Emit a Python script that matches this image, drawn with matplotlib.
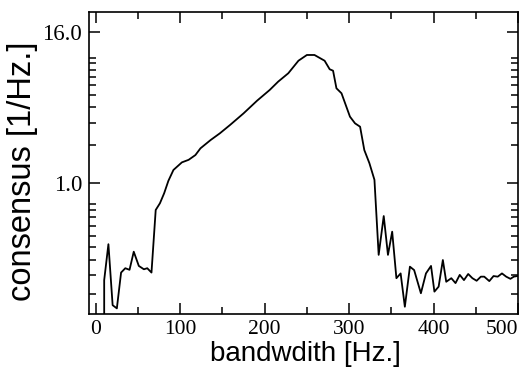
import matplotlib
matplotlib.use("Agg")
import matplotlib.pyplot as plt
import numpy as np

# bandwidth [Hz] and consensus [1/Hz]
bandwidth = [0, 5, 10, 15, 20, 25, 30, 35, 40, 45, 51, 57, 61, 66, 71, 76, 81, 86,
             92, 102, 110, 118, 124, 136, 147, 159, 175, 191, 206, 216, 228, 240,
             250, 259, 271, 277, 281, 285, 291, 301, 307, 313, 318, 324, 330, 335,
             341, 346, 351, 356, 361, 366, 372, 377, 385, 391, 397, 401, 406, 411,
             415, 421, 426, 431, 436, 441, 446, 451, 456, 460, 466, 471, 476, 481,
             486, 491, 495, 499]
consensus = [0.0, 0.0, 0.168, 0.325, 0.106, 0.100, 0.193, 0.209, 0.203, 0.283,
             0.218, 0.205, 0.209, 0.193, 0.609, 0.689, 0.828, 1.04,
             1.27, 1.46, 1.53, 1.67, 1.89, 2.20, 2.49, 2.90, 3.59, 4.53,
             5.52, 6.43, 7.50, 9.44, 10.49, 10.49, 9.44, 8.07, 7.86, 5.69,
             5.19, 3.38, 2.99, 2.81, 1.83, 1.44, 1.06, 0.267,
             0.545, 0.267, 0.409, 0.174, 0.190, 0.103, 0.215, 0.202, 0.132,
             0.190, 0.218, 0.136, 0.149, 0.243, 0.163, 0.174, 0.159, 0.185,
             0.168, 0.188, 0.174, 0.166, 0.179, 0.179, 0.165, 0.181, 0.179,
             0.190, 0.179, 0.172, 0.179, 0.181]

y_major = [1.0, 16.0]
y_minor = [0.13, 0.185, 0.245, 0.31, 0.38, 0.455, 0.535, 0.61, 0.68,
           2, 3, 4, 5, 6, 7, 8, 9, 10]
x_major = [0, 100, 200, 300, 400, 500]
x_minor = [50, 150, 250, 350, 450]

fig = plt.figure(figsize=(5.25, 3.7), dpi=100)
ax = fig.add_axes([0.1695, 0.1514, 0.8172, 0.8149])

ax.plot(bandwidth, consensus, color="black", lw=1.3)
ax.set_yscale("log")
ax.set_xlim(-8, 500)
ax.set_ylim(0.0902, 22.9)

ax.set_xticks(x_major)
ax.set_xticks(x_minor, minor=True)
ax.set_yticks(y_major)
ax.set_yticks(y_minor, minor=True)
ax.set_yticklabels(["%.1f" % v for v in y_major])
ax.set_yticklabels([], minor=True)

ax.tick_params(which="both", direction="in", top=True, right=True, width=1.1,
               labelfontfamily="Liberation Serif")
ax.tick_params(which="major", length=8)
ax.tick_params(which="minor", length=5)
ax.tick_params(axis="y", pad=5, labelsize=16.5)
ax.tick_params(axis="x", pad=4, labelsize=15.5)
ax.get_xticklabels()[-1].set_horizontalalignment("right")
for s in ax.spines.values():
    s.set_linewidth(1.2)

ax.set_xlabel("bandwdith [Hz.]", family="Liberation Sans", fontsize=20)
ax.set_ylabel("consensus [1/Hz.]", family="Liberation Sans", fontsize=23.5)
ax.xaxis.set_label_coords(0.5035, -0.088)
ax.yaxis.set_label_coords(-0.12, 0.4726)

fig.savefig("out.png", dpi=100)
